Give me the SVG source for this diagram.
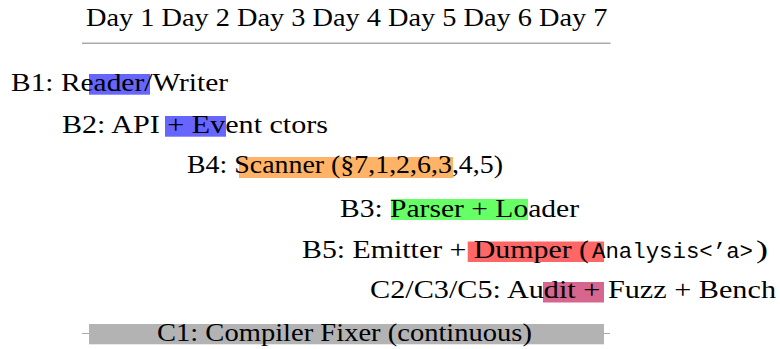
<svg xmlns="http://www.w3.org/2000/svg" width="780" height="349" viewBox="0 0 780 349">
<style>
  .t { font-family: "Liberation Serif", "DejaVu Serif", serif; font-size: 26px; fill: #000; }
  .m { font-family: "Liberation Mono", "DejaVu Sans Mono", monospace; font-size: 22.3px; fill: #000; }
  .axis { stroke: #aaaaaa; stroke-width: 1.5; fill: none; }
  .tick { stroke: #aaaaaa; stroke-width: 1; fill: none; }
</style>
<rect width="780" height="349" fill="#ffffff"/>
<g id="header">
  <text class="t" x="86" y="26" textLength="521.5" lengthAdjust="spacingAndGlyphs">Day 1 Day 2 Day 3 Day 4 Day 5 Day 6 Day 7</text>
</g>
<g id="connectors">
  <line class="axis" x1="82" y1="43.2" x2="610.5" y2="43.2"/>
  <line class="tick" x1="82" y1="333.5" x2="610" y2="333.5"/>
</g>
<g id="B1">
  <rect x="89" y="74" width="61" height="20.7" fill="#6666ff"/>
  <text class="t" x="11" y="91" textLength="217" lengthAdjust="spacingAndGlyphs">B1: Reader/Writer</text>
</g>
<g id="B2">
  <rect x="165" y="116" width="61" height="20.7" fill="#6666ff"/>
  <text class="t" x="62" y="133" textLength="266" lengthAdjust="spacingAndGlyphs">B2: API + Event ctors</text>
</g>
<g id="B4">
  <rect x="239" y="157" width="214" height="21" fill="#ffb366"/>
  <text class="t" x="187" y="173" textLength="316" lengthAdjust="spacingAndGlyphs">B4: Scanner (§7,1,2,6,3,4,5)</text>
</g>
<g id="B3">
  <rect x="391" y="199" width="137" height="21" fill="#66ff66"/>
  <text class="t" x="340" y="217" textLength="239" lengthAdjust="spacingAndGlyphs">B3: Parser + Loader</text>
</g>
<g id="B5">
  <rect x="467.7" y="241.5" width="136.3" height="20.5" fill="#ff6666"/>
  <text class="t" x="302" y="257.5" textLength="287" lengthAdjust="spacingAndGlyphs">B5: Emitter + Dumper (</text>
  <text class="m" x="592" y="257.5" textLength="161" lengthAdjust="spacingAndGlyphs">Analysis&lt;’a&gt;</text>
  <text class="t" x="756" y="257.5" textLength="12" lengthAdjust="spacingAndGlyphs">)</text>
</g>
<g id="C2C3C5">
  <rect x="543" y="282" width="61" height="20.5" fill="#d6668d"/>
  <text class="t" x="370" y="298" textLength="406" lengthAdjust="spacingAndGlyphs">C2/C3/C5: Audit + Fuzz + Bench</text>
</g>
<g id="C1">
  <rect x="89" y="324" width="515" height="20.3" fill="#b3b3b3"/>
  <text class="t" x="157" y="340.5" textLength="375" lengthAdjust="spacingAndGlyphs">C1: Compiler Fixer (continuous)</text>
</g>
</svg>
